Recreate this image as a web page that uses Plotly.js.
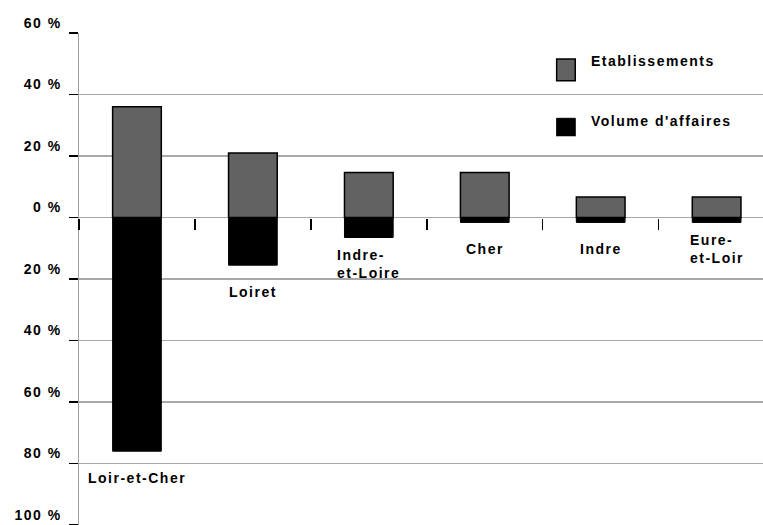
<!DOCTYPE html>
<html>
<head>
<meta charset="utf-8">
<script src="https://cdn.plot.ly/plotly-3.0.1.min.js"></script>
<style>
html, body { margin: 0; padding: 0; background: #fff; overflow: hidden; }
#chart { width: 763px; height: 525px; }
text { letter-spacing: 1.5px; }
#chart .legend .legendpoints path {
  transform: translate(15px, 9px) scale(1.55, 1.8);
  vector-effect: non-scaling-stroke;
}
</style>
</head>
<body>
<div id="chart"></div>
<script>
var categories = ["Loir-et-Cher", "Loiret", "Indre-et-Loire", "Cher", "Indre", "Eure-et-Loir"];
var categoryLabels = ["Loir-et-Cher", "Loiret", "Indre-<br>et-Loire", "Cher", "Indre", "Eure-<br>et-Loir"];
var etablissements = [36, 21, 14.6, 14.6, 6.7, 6.7];
var volumeAffaires = [-76, -15.5, -6.5, -1.6, -1.6, -1.6];
var tickValues = [60, 40, 20, 0, -20, -40, -60, -80, -100];
var tickLabels = ["60 %", "40 %", "20 %", "0 %", "20 %", "40 %", "60 %", "80 %", "100 %"];
var seriesNames = ["Etablissements", "Volume d'affaires"];

var FONT = "Liberation Sans, Arial, sans-serif";

var traces = [
  {
    type: "bar", name: seriesNames[0], x: categories, y: etablissements,
    width: 0.42, legendgroup: "a",
    marker: { color: "#626262", line: { color: "#000", width: 1.5 } },
    hoverinfo: "x+y"
  },
  {
    type: "bar", name: seriesNames[1], x: categories, y: volumeAffaires,
    width: 0.42, legendgroup: "b",
    marker: { color: "#000", line: { color: "#000", width: 1 } },
    hoverinfo: "x+y"
  },
  {
    type: "scatter", x: categories, y: categories.map(function(){return 0;}),
    xaxis: "x2", mode: "none", showlegend: false, hoverinfo: "skip"
  }
];

var annotations = categories.map(function (c, i) {
  var bottom = Math.min(0, volumeAffaires[i]);
  return {
    x: c, y: bottom, xref: "x", yref: "y",
    text: "<b>" + categoryLabels[i] + "</b>",
    showarrow: false, yanchor: "middle", xanchor: "center",
    yshift: -27, align: "left",
    font: { family: FONT, size: 14, color: "#000" }
  };
});

var layout = {
  width: 763, height: 525,
  margin: { l: 79, r: 0, t: 33, b: 0, pad: 0 },
  paper_bgcolor: "#fff", plot_bgcolor: "#fff",
  barmode: "relative",
  showlegend: true,
  legend: {
    x: 0.690, xanchor: "left", y: 0.975, yanchor: "top",
    traceorder: "grouped", tracegroupgap: 38,
    font: { family: FONT, size: 14, color: "#000", weight: "bold" },
    bgcolor: "rgba(0,0,0,0)"
  },
  xaxis: {
    type: "category", categoryorder: "array", categoryarray: categories,
    range: [-0.5, 5.4],
    showticklabels: false, showgrid: false, zeroline: false, showline: false,
    ticks: "", fixedrange: true
  },
  xaxis2: {
    type: "category", categoryorder: "array", categoryarray: categories,
    overlaying: "x", anchor: "free", position: 0.625, matches: "x",
    showticklabels: false, showgrid: false, zeroline: false, showline: false,
    ticks: "outside", tickson: "boundaries", ticklen: 11, tickwidth: 1.5, tickcolor: "#000"
  },
  yaxis: {
    range: [-100, 60],
    tickvals: tickValues, ticktext: tickLabels,
    ticks: "outside", ticklen: 9, tickwidth: 1.5, tickcolor: "#000",
    ticklabelshift: -10, ticklabelstandoff: 4,
    showline: true, linecolor: "#a0a0a0", linewidth: 1.5,
    showgrid: true, gridcolor: "#a8a8a8", gridwidth: 1.5,
    zeroline: true, zerolinecolor: "#a8a8a8", zerolinewidth: 1.5,
    tickfont: { family: FONT, size: 14, color: "#000", weight: "bold" },
    fixedrange: true
  },
  annotations: annotations
};

Plotly.newPlot("chart", traces, layout, { displayModeBar: false, staticPlot: true });
</script>
</body>
</html>
